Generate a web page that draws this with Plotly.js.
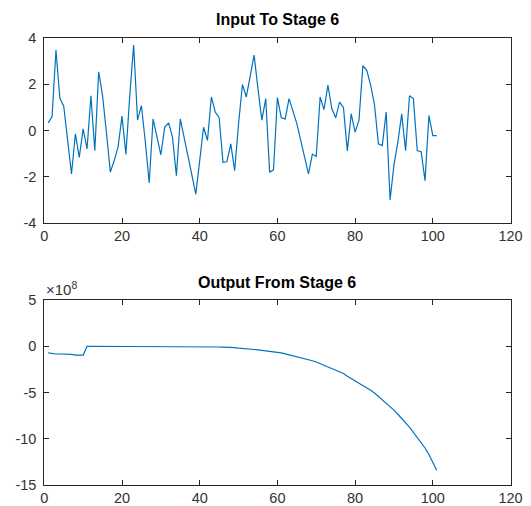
<!DOCTYPE html>
<html>
<head>
<meta charset="utf-8">
<script src="https://cdn.plot.ly/plotly-3.0.1.min.js"></script>
<style>html,body{margin:0;padding:0;background:#fff;}#chart{width:531px;height:506px;}</style>
</head>
<body>
<div id="chart"></div>
<script>
// Sample index (1..101)
const sampleIndex = Array.from({length: 101}, (_, i) => i + 1);

// Input To Stage 6
const inputValues = [
  0.33, 0.6, 3.48, 1.4, 1.05, -0.5, -1.88, -0.15, -1.16, 0.07,
  -0.8, 1.5, -0.87, 2.54, 1.5, -0.1, -1.8, -1.3, -0.7, 0.62,
  -1.03, 1.5, 3.7, 0.45, 1.08, -0.5, -2.27, 0.5, -0.3, -1.05,
  0.15, 0.33, -0.3, -1.95, 0.5, -0.3, -1.05, -1.85, -2.75, -1.3,
  0.14, -0.43, 1.45, 0.8, 0.55, -1.38, -1.35, -0.58, -1.74, 0.29,
  1.99, 1.45, 2.3, 3.26, 1.8, 0.45, 1.38, -1.81, -1.7, 1.42,
  0.55, 0.5, 1.38, 0.85, 0.3, -0.43, -1.15, -1.88, -1.02, -1.12,
  1.45, 0.9, 1.96, 0.95, 0.55, 1.23, 1.0, -0.88, 0.72, -0.07,
  0.45, 2.8, 2.6, 1.96, 1.1, -0.58, -0.65, 0.8, -3.0, -1.5,
  -0.5, 0.72, -0.87, 1.5, 1.38, -0.87, -0.92, -2.17, 0.65, -0.22,
  -0.22
];

// Output From Stage 6, in units of 1e8
const outputValuesE8 = [
  -0.72, -0.8, -0.84, -0.84, -0.84, -0.84, -0.88, -0.95, -0.95, -0.95,
  0.0, 0.0, 0.0, 0.0, 0.0, 0.0, 0.0, 0.0, 0.0, 0.0,
  0.0, 0.0, 0.0, 0.0, 0.0, 0.0, 0.0, 0.0, 0.0, 0.0,
  0.0, 0.0, 0.0, 0.0, 0.0, 0.0, 0.0, 0.0, -0.01, -0.02,
  -0.02, -0.03, -0.04, -0.05, -0.08, -0.1, -0.1, -0.12, -0.15, -0.2,
  -0.22, -0.25, -0.3, -0.35, -0.4, -0.44, -0.48, -0.52, -0.57, -0.63,
  -0.72, -0.82, -0.92, -1.02, -1.12, -1.22, -1.35, -1.45, -1.57, -1.7,
  -1.88, -2.05, -2.2, -2.35, -2.55, -2.75, -2.95, -3.25, -3.5, -3.7,
  -3.95, -4.2, -4.45, -4.75, -5.05, -5.4, -5.75, -6.1, -6.5, -6.9,
  -7.35, -7.8, -8.25, -8.75, -9.3, -9.85, -10.4, -11.0, -11.7, -12.5,
  -13.4
];

const xTicks = [0, 20, 40, 60, 80, 100, 120];
const yTicksTop = [-4, -2, 0, 2, 4];
const yTicksBottom = [-15, -10, -5, 0, 5];
const titleTop = 'Input To Stage 6';
const titleBottom = 'Output From Stage 6';

const W = 531, H = 506;
const lineColor = '#0072BD';
const axisColor = '#262626';
const fontFam = '"Liberation Sans", Arial, Helvetica, sans-serif';
const xDom = [44.3 / W, 510.5 / W];
const topDom = [1 - 223 / H, 1 - 38 / H];
const botDom = [1 - 485 / H, 1 - 300 / H];

function xAxis(anchor, domain) {
  return {
    domain: domain, anchor: anchor, range: [0, 120],
    tickvals: xTicks, ticktext: xTicks.map(String),
    ticks: 'inside', ticklen: 5, tickcolor: axisColor, tickwidth: 1,
    showline: true, linecolor: axisColor, linewidth: 1, mirror: 'allticks',
    showgrid: false, zeroline: false, fixedrange: true,
    tickfont: {family: fontFam, size: 14.5, color: '#333'}
  };
}
function yAxis(anchor, domain, range, ticks) {
  return {
    domain: domain, anchor: anchor, range: range,
    tickvals: ticks, ticktext: ticks.map(String),
    ticks: 'inside', ticklen: 5, tickcolor: axisColor, tickwidth: 1,
    showline: true, linecolor: axisColor, linewidth: 1, mirror: 'allticks',
    showgrid: false, zeroline: false, fixedrange: true,
    ticklabelstandoff: 4,
    tickfont: {family: fontFam, size: 14.5, color: '#333'}
  };
}

const data = [
  {x: sampleIndex, y: inputValues, type: 'scatter', mode: 'lines',
   xaxis: 'x', yaxis: 'y', line: {color: lineColor, width: 1.2}, hoverinfo: 'skip'},
  {x: sampleIndex, y: outputValuesE8, type: 'scatter', mode: 'lines',
   xaxis: 'x2', yaxis: 'y2', line: {color: lineColor, width: 1.2}, hoverinfo: 'skip'}
];

const layout = {
  width: W, height: H,
  margin: {l: 0, r: 0, t: 0, b: 0},
  paper_bgcolor: '#fff', plot_bgcolor: '#fff',
  showlegend: false,
  xaxis: xAxis('y', xDom),
  yaxis: yAxis('x', topDom, [-4, 4], yTicksTop),
  xaxis2: xAxis('y2', xDom),
  yaxis2: yAxis('x2', botDom, [-15, 5], yTicksBottom),
  annotations: [
    {text: '<b>' + titleTop + '</b>', xref: 'paper', yref: 'paper',
     x: (xDom[0] + xDom[1]) / 2, y: 1 - 19 / H, xanchor: 'center', yanchor: 'middle',
     showarrow: false, font: {family: fontFam, size: 16, color: '#000'}},
    {text: '<b>' + titleBottom + '</b>', xref: 'paper', yref: 'paper',
     x: (xDom[0] + xDom[1]) / 2, y: 1 - 282 / H, xanchor: 'center', yanchor: 'middle',
     showarrow: false, font: {family: fontFam, size: 16, color: '#000'}},
    {text: '×10<sup>8</sup>', xref: 'paper', yref: 'paper',
     x: 44 / W, y: 1 - 288 / H, xanchor: 'left', yanchor: 'middle',
     showarrow: false, font: {family: fontFam, size: 15, color: '#333'}}
  ]
};

Plotly.newPlot('chart', data, layout, {displayModeBar: false, staticPlot: true});
</script>
</body>
</html>
